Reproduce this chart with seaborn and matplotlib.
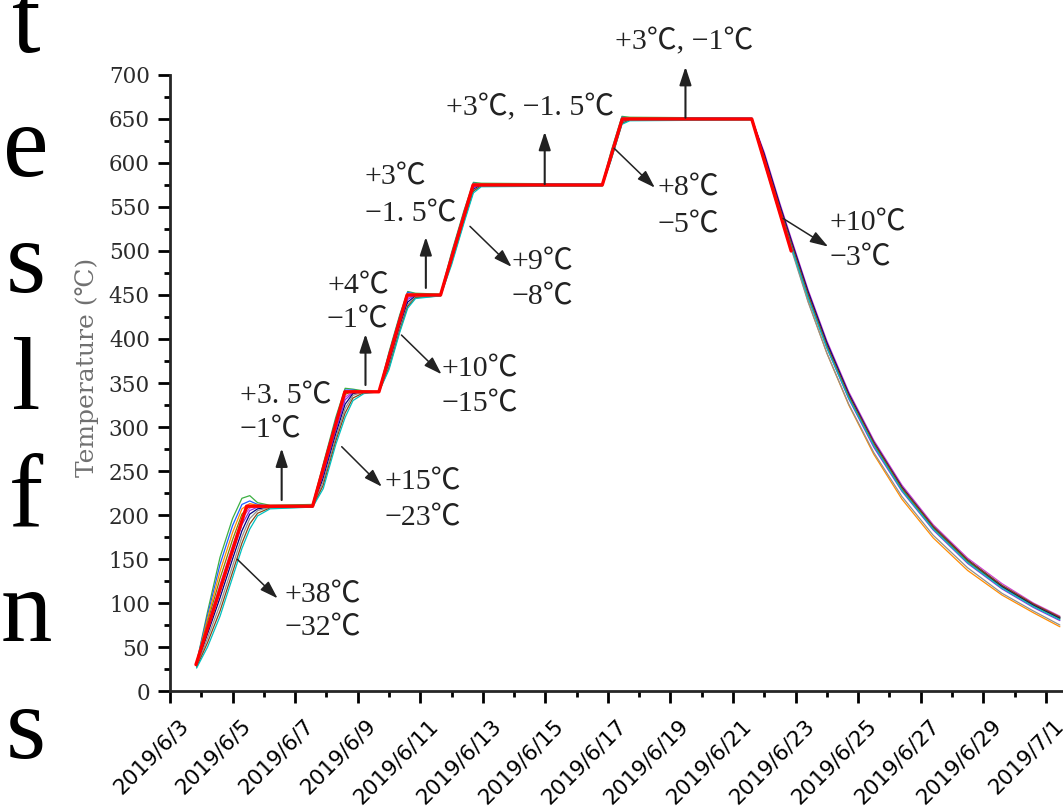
import matplotlib
matplotlib.use("Agg")
import matplotlib.pyplot as plt
import matplotlib.dates as mdates
from matplotlib.ticker import FixedLocator, MultipleLocator
from matplotlib.transforms import ScaledTranslation
import pandas as pd
import seaborn as sns

start = pd.Timestamp("2019-06-03")

# Set point programme (days after 2019/6/3 00:00, degC)
setpoint_days = [0.83, 2.45, 4.56, 5.59, 6.68, 7.58, 8.65, 9.69, 13.82, 14.46, 18.6, 19.86]
setpoint_temp = [30, 210, 210, 340, 340, 450, 450, 575, 575, 650, 650, 500]

# Thermocouple readings, shared time base (days after 2019/6/3 00:00)
sensor_days = [0.85, 1.2, 1.6, 2.0, 2.3, 2.55, 2.8, 3.2,
               4.56, 4.9, 5.3, 5.6, 5.85, 6.2,
               6.68, 7.0, 7.35, 7.6, 7.85,
               8.65, 9.0, 9.4, 9.7, 9.95,
               13.82, 14.1, 14.45, 14.7,
               18.6, 19.0, 19.5, 19.9,
               20.4, 21.0, 21.7, 22.5, 23.4, 24.4, 25.5, 26.6, 27.6, 28.45]

tc1 = [32, 90, 152, 196, 219, 222, 214, 211,
       212, 258, 311, 344, 343, 341,
       340, 385, 428, 454, 452,
       451, 498, 546, 578, 577,
       576, 613, 653, 652,
       651, 604, 546, 502,
       449, 392, 335, 281, 231, 187, 149, 120, 99, 84]
tc2 = [32, 86, 144, 188, 212, 216, 212, 210,
       211, 256, 308, 342, 342, 340,
       340, 383, 426, 453, 451,
       450, 496, 544, 577, 576,
       576, 611, 652, 651,
       651, 608, 550, 506,
       452, 394, 336, 281, 230, 186, 148, 119, 98, 83]
tc3 = [31, 82, 136, 180, 207, 213, 211, 210,
       211, 254, 305, 340, 341, 340,
       340, 381, 424, 451, 451,
       450, 494, 542, 576, 576,
       575, 610, 651, 651,
       650, 602, 543, 500,
       443, 384, 325, 269, 218, 174, 137, 109, 89, 73]
tc4 = [31, 78, 128, 172, 201, 210, 210, 210,
       210, 252, 302, 337, 341, 340,
       340, 379, 422, 449, 451,
       450, 492, 540, 574, 576,
       575, 608, 649, 651,
       650, 606, 548, 504,
       450, 392, 334, 280, 229, 185, 147, 118, 97, 82]
tc5 = [30, 75, 121, 165, 196, 208, 210, 210,
       210, 249, 299, 334, 340, 340,
       340, 377, 420, 447, 450,
       450, 491, 539, 573, 575,
       575, 607, 648, 650,
       650, 612, 554, 510,
       456, 398, 340, 285, 234, 189, 151, 122, 100, 85]
tc6 = [30, 69, 113, 157, 189, 205, 209, 210,
       210, 246, 296, 331, 339, 340,
       340, 375, 418, 445, 450,
       450, 490, 538, 572, 575,
       575, 606, 647, 650,
       650, 605, 547, 503,
       448, 390, 332, 277, 227, 183, 145, 116, 95, 80]
tc7 = [29, 65, 106, 150, 182, 201, 207, 209,
       210, 242, 292, 326, 338, 340,
       340, 372, 415, 442, 449,
       450, 488, 536, 570, 575,
       575, 605, 646, 650,
       650, 610, 552, 508,
       454, 396, 338, 283, 232, 187, 149, 119, 98, 83]
tc8 = [28, 60, 98, 142, 175, 196, 205, 209,
       209, 238, 288, 321, 336, 340,
       340, 369, 412, 439, 448,
       450, 487, 535, 569, 574,
       575, 605, 646, 649,
       650, 600, 541, 498,
       442, 384, 326, 271, 221, 177, 140, 111, 91, 75]
tc9 = [27, 55, 91, 135, 168, 190, 202, 208,
       209, 234, 284, 316, 333, 339,
       340, 367, 410, 437, 447,
       449, 486, 534, 568, 574,
       574, 604, 645, 649,
       649, 607, 549, 505,
       451, 393, 336, 282, 231, 187, 149, 120, 99, 84]
tc10 = [26, 50, 85, 129, 162, 184, 199, 207,
        209, 230, 280, 311, 330, 338,
        340, 365, 408, 435, 446,
        449, 484, 532, 566, 573,
        574, 603, 644, 648,
        649, 603, 545, 501,
        447, 390, 333, 279, 228, 184, 146, 117, 96, 81]

sensor_colors = ["#3cb043", "#1f5fff", "#ff8c00", "#808000", "#d040d0",
                 "#8a2be2", "#000080", "#909090", "#8b4513", "#00c0c0"]

tick_labels = ["2019/6/3", "2019/6/5", "2019/6/7", "2019/6/9", "2019/6/11",
               "2019/6/13", "2019/6/15", "2019/6/17", "2019/6/19", "2019/6/21",
               "2019/6/23", "2019/6/25", "2019/6/27", "2019/6/29", "2019/7/1"]

# Build long table
sensors = {"TC1": tc1, "TC2": tc2, "TC3": tc3, "TC4": tc4, "TC5": tc5,
           "TC6": tc6, "TC7": tc7, "TC8": tc8, "TC9": tc9, "TC10": tc10}
df = pd.concat([
    pd.DataFrame({
        "time": start + pd.to_timedelta(sensor_days, unit="D"),
        "temp": vals,
        "sensor": name,
    })
    for name, vals in sensors.items()
])
df_sp = pd.DataFrame({
    "time": start + pd.to_timedelta(setpoint_days, unit="D"),
    "temp": setpoint_temp,
})

sns.set_style("ticks")
plt.rcParams["font.family"] = ["Liberation Serif", "Noto Sans CJK SC", "DejaVu Sans"]

fig = plt.figure(figsize=(10.63, 8.08), dpi=100)
ax = fig.add_axes([0.15992, 0.1448, 0.84008, 0.76238])

sns.lineplot(data=df, x="time", y="temp", hue="sensor", palette=sensor_colors,
             estimator=None, sort=False, linewidth=0.9, legend=False, ax=ax)
sns.lineplot(data=df_sp, x="time", y="temp", color="#ff0000",
             estimator=None, sort=False, linewidth=2.4, ax=ax)

x0 = mdates.date2num(start)
ax.set_xlim(x0, x0 + 28.55)
ax.set_ylim(0, 700)

# Axes, ticks
for side in ["top", "right"]:
    ax.spines[side].set_visible(False)
for side in ["left", "bottom"]:
    ax.spines[side].set_linewidth(2)

tick_dates = mdates.date2num(pd.to_datetime(tick_labels, format="%Y/%m/%d"))
ax.xaxis.set_major_locator(FixedLocator(tick_dates))
ax.xaxis.set_minor_locator(MultipleLocator(1))
ax.yaxis.set_major_locator(MultipleLocator(50))
ax.yaxis.set_minor_locator(MultipleLocator(25))

ax.tick_params(which="major", length=8.5, width=2, direction="out", color="black")
ax.tick_params(which="minor", length=4.5, width=2, direction="out", color="black")
ax.tick_params(axis="y", labelsize=15.5, labelcolor="#2b2b2b",
               labelfontfamily="DejaVu Serif", pad=6)
ax.tick_params(axis="x", pad=9)

ax.set_xticklabels(tick_labels, rotation=45, ha="right", va="top",
                   rotation_mode="anchor", fontsize=15.5, family="DejaVu Sans",
                   color="black")
shift = ScaledTranslation(8 / 100, 0, fig.dpi_scale_trans)
for lbl in ax.get_xticklabels():
    lbl.set_transform(lbl.get_transform() + shift)

ax.set_xlabel("")
ax.set_ylabel("Temperature (℃)", fontsize=18, color="#707070",
              family=["DejaVu Serif", "Noto Sans CJK SC"])
ax.yaxis.set_label_coords(-0.079, 0.526)

# Annotations
text_kw = dict(fontsize=21.5, color="#222222", ha="left", va="center")
notes = [
    (["+38℃", "−32℃"], 3.675, [109, 70.5]),
    (["+3. 5℃", "−1℃"], 2.237, [335, 295.5]),
    (["+15℃", "−23℃"], 6.87, [237.5, 196.6]),
    (["+4℃", "−1℃"], 5.02, [460, 420.5]),
    (["+10℃", "−15℃"], 8.69, [364.8, 326]),
    (["+3℃", "−1. 5℃"], 6.23, [583, 542]),
    (["+9℃", "−8℃"], 10.92, [487.5, 447.7]),
    (["+3℃, −1. 5℃"], 8.84, [662.5]),
    (["+3℃, −1℃"], 14.22, [737.5]),
    (["+8℃", "−5℃"], 15.60, [570.5, 529.5]),
    (["+10℃", "−3℃"], 21.09, [531.8, 492]),
]
for lines, xd, ys in notes:
    for s, y in zip(lines, ys):
        ax.text(x0 + xd, y, s, clip_on=False, **text_kw)

arrows = [
    ((2.15, 149.7), (3.44, 105.3), 1.1),
    ((3.57, 217), (3.57, 275.8), 1.5),
    ((5.49, 277.6), (6.77, 232.2), 1.1),
    ((6.25, 347.7), (6.25, 405.7), 1.5),
    ((7.40, 404.5), (8.68, 360), 1.1),
    ((8.18, 458), (8.18, 516), 1.5),
    ((9.59, 528), (10.92, 482), 1.1),
    ((11.98, 576), (11.98, 635.6), 1.5),
    ((16.48, 651.5), (16.48, 709.4), 1.5),
    ((14.20, 616.7), (15.50, 572), 1.1),
    ((19.60, 537), (21.04, 505), 1.1),
]
for tail, head, lw in arrows:
    ax.annotate("", xy=(x0 + head[0], head[1]), xytext=(x0 + tail[0], tail[1]),
                arrowprops=dict(arrowstyle="-|>,head_length=0.55,head_width=0.18",
                                mutation_scale=20, color="#222222", lw=lw,
                                shrinkA=0, shrinkB=0),
                annotation_clip=False)

# Page text cut off at the left edge
page_letters = ["t", "e", "s", "l", "f", "n", "s"]
baselines = [52, 176, 292, 409, 526, 641, 758]
for ch, yb in zip(page_letters, baselines):
    fig.text(26 / 1063, 1 - yb / 808, ch, fontsize=74, family="Liberation Serif",
             color="black", ha="center", va="baseline")

fig.savefig("out.png", dpi=100, facecolor="white")
